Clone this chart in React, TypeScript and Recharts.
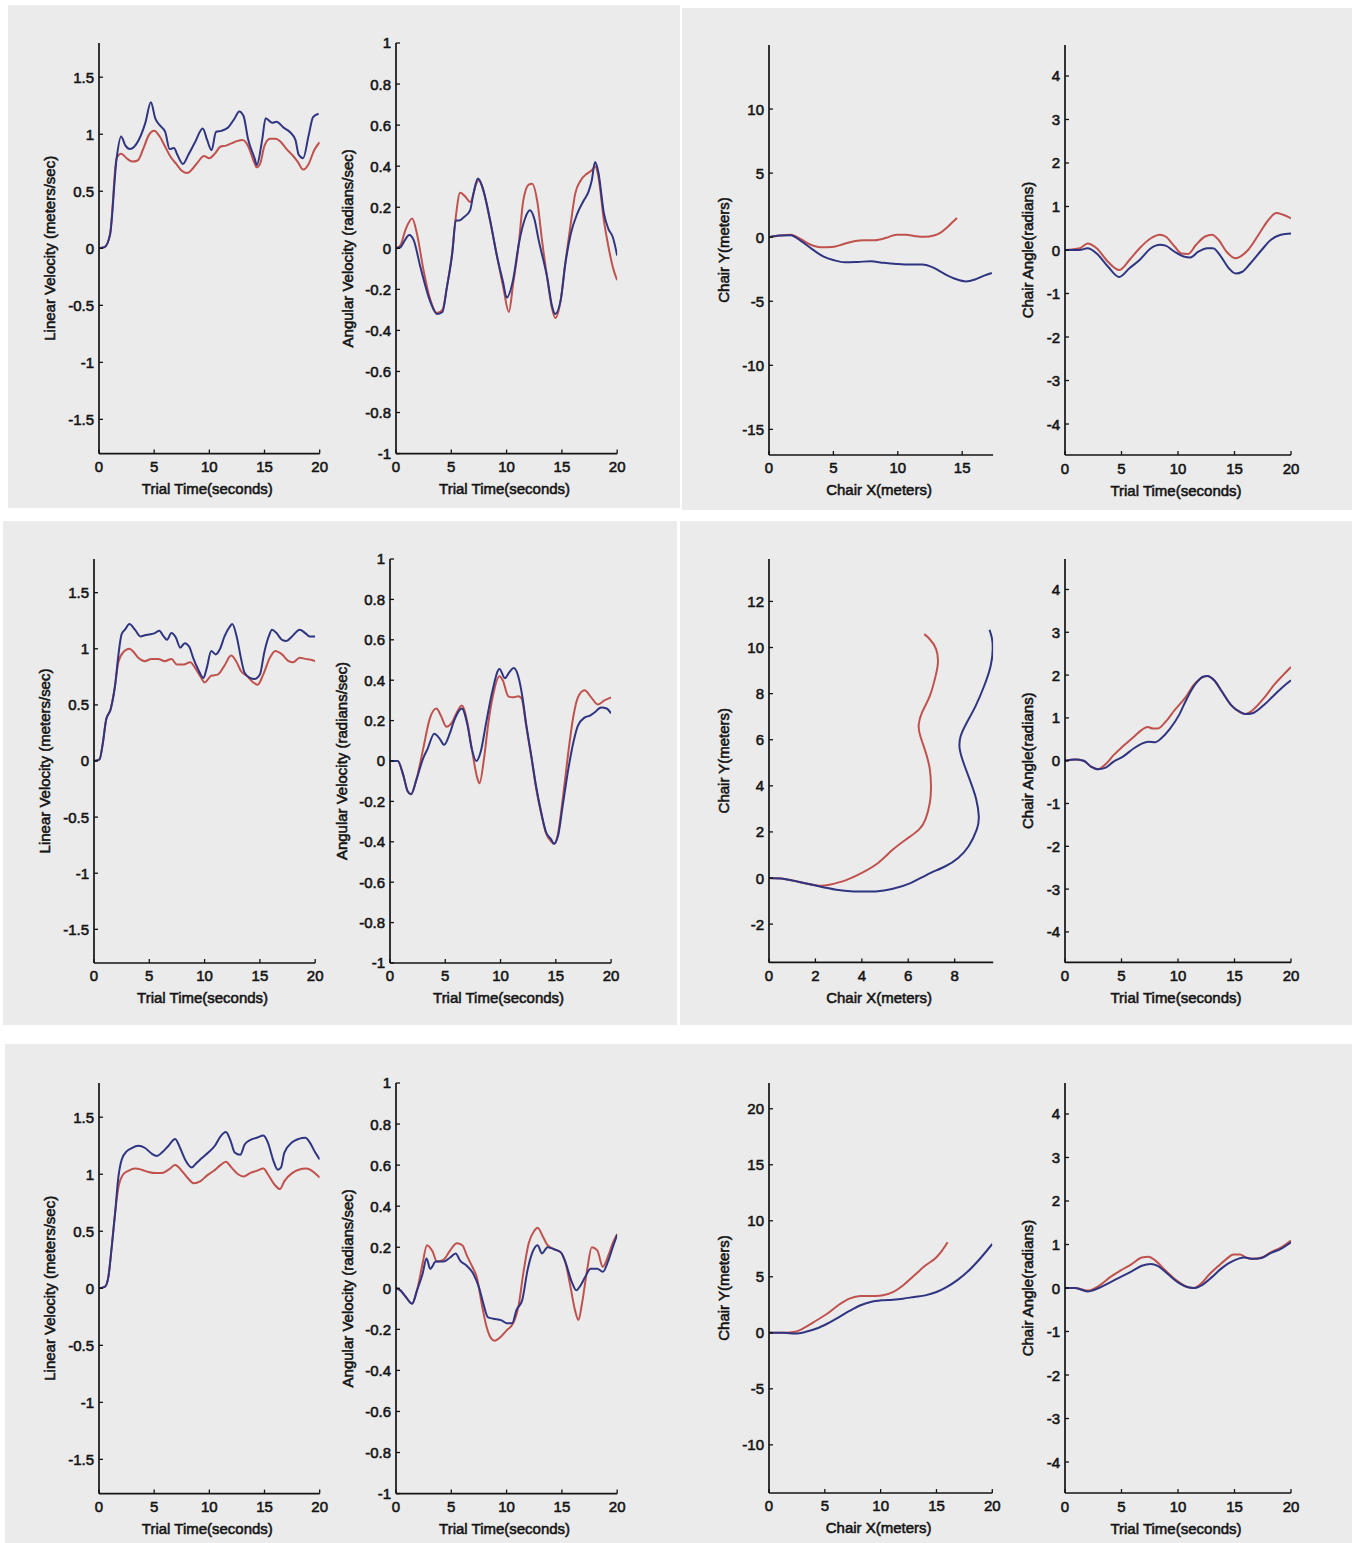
import React from 'react';
import { LineChart, Line, XAxis, YAxis } from 'recharts';

type Pt = [number, number];

// ---- axis ticks ----
const timeTicks = [0, 5, 10, 15, 20];
const linVelTicks = [-1.5, -1, -0.5, 0, 0.5, 1, 1.5];
const angVelTicks = [-1, -0.8, -0.6, -0.4, -0.2, 0, 0.2, 0.4, 0.6, 0.8, 1];
const chairAngleTicks = [-4, -3, -2, -1, 0, 1, 2, 3, 4];
const path1XTicks = [0, 5, 10, 15];
const path1YTicks = [-15, -10, -5, 0, 5, 10];
const path2XTicks = [0, 2, 4, 6, 8];
const path2YTicks = [-2, 0, 2, 4, 6, 8, 10, 12];
const path3XTicks = [0, 5, 10, 15, 20];
const path3YTicks = [-10, -5, 0, 5, 10, 15, 20];

// ---- trial 1 ----
const t1LinBlue: Pt[] = [[0,0],[0.5,0.01],[1,0.12],[1.6,0.79],[2.0,0.98],[2.4,0.9],[2.8,0.87],[3.6,0.95],[4.2,1.1],[4.7,1.28],[5.1,1.14],[5.5,1.08],[6.0,1.02],[6.4,0.87],[6.8,0.88],[7.1,0.82],[7.6,0.74],[8.1,0.82],[8.7,0.93],[9.4,1.05],[9.8,0.95],[10.2,0.86],[10.6,1.02],[11.1,1.03],[11.7,1.06],[12.3,1.14],[12.7,1.2],[13.1,1.16],[13.5,0.96],[14.1,0.79],[14.3,0.73],[14.8,0.96],[15.1,1.14],[15.7,1.1],[16.1,1.11],[16.7,1.06],[17.3,1.02],[17.8,0.95],[18.1,0.82],[18.5,0.79],[19.0,0.99],[19.4,1.15],[19.9,1.18]];
const t1LinRed: Pt[] = [[0,0],[0.5,0.01],[1,0.12],[1.6,0.79],[2.0,0.83],[2.5,0.79],[3,0.76],[3.5,0.77],[4,0.87],[4.5,0.99],[5,1.03],[5.5,0.98],[6,0.89],[6.5,0.8],[7,0.74],[7.5,0.68],[8,0.66],[8.5,0.7],[9,0.76],[9.5,0.81],[10,0.79],[10.5,0.83],[11,0.89],[11.5,0.9],[12,0.92],[12.5,0.94],[13,0.95],[13.5,0.9],[14,0.77],[14.3,0.71],[14.6,0.74],[15,0.9],[15.5,0.96],[16,0.96],[16.5,0.93],[17,0.87],[17.5,0.82],[18,0.76],[18.5,0.69],[19,0.74],[19.5,0.86],[20,0.93]];
const t1AngBlue: Pt[] = [[0,0],[0.4,0.005],[0.7,0.03],[1.2,0.065],[1.6,0.04],[2.2,-0.09],[3.1,-0.26],[3.7,-0.32],[4.2,-0.31],[4.6,-0.19],[5.1,-0.02],[5.4,0.135],[5.7,0.135],[6.1,0.15],[6.7,0.185],[7.0,0.265],[7.4,0.34],[7.8,0.3],[8.5,0.14],[9.1,-0.03],[9.7,-0.17],[10.0,-0.24],[10.6,-0.15],[11.1,0.02],[11.7,0.15],[12.1,0.185],[12.5,0.145],[12.9,0.04],[13.7,-0.15],[14.1,-0.28],[14.4,-0.32],[14.9,-0.25],[15.3,-0.08],[15.8,0.07],[16.4,0.17],[17.0,0.235],[17.4,0.275],[17.7,0.33],[18.0,0.42],[18.3,0.37],[18.8,0.17],[19.2,0.095],[19.6,0.055],[20,-0.035]];
const t1AngRed: Pt[] = [[0,0],[0.4,0.015],[0.86,0.09],[1.46,0.145],[1.9,0.07],[2.5,-0.11],[3.1,-0.25],[3.7,-0.315],[4.2,-0.3],[4.6,-0.19],[5.1,-0.01],[5.4,0.15],[5.8,0.27],[6.3,0.25],[6.7,0.225],[7.3,0.32],[7.5,0.335],[7.9,0.28],[8.5,0.135],[9.1,-0.03],[9.7,-0.19],[10.2,-0.31],[10.6,-0.17],[11.1,0.02],[11.5,0.23],[12.0,0.31],[12.3,0.315],[12.8,0.22],[13.2,0.04],[13.7,-0.155],[14.1,-0.29],[14.4,-0.34],[14.9,-0.25],[15.3,-0.075],[15.8,0.12],[16.2,0.265],[16.7,0.33],[17.3,0.365],[17.7,0.38],[18.0,0.4],[18.3,0.35],[18.8,0.135],[19.2,0.01],[19.7,-0.11],[20,-0.155]];
const t1PathBlue: Pt[] = [[0,0],[0.84,0.13],[1.68,0.16],[2.5,-0.31],[3.4,-0.97],[4.2,-1.49],[5.05,-1.8],[5.9,-1.96],[6.9,-1.93],[7.9,-1.88],[8.9,-2.0],[9.9,-2.09],[10.9,-2.14],[11.9,-2.14],[12.8,-2.4],[13.6,-2.85],[14.5,-3.26],[15.3,-3.45],[16.0,-3.3],[16.7,-3.0],[17.3,-2.8]];
const t1PathRed: Pt[] = [[0,0],[0.84,0.13],[1.68,0.2],[2.5,-0.18],[3.2,-0.57],[4.0,-0.78],[4.9,-0.76],[5.7,-0.57],[6.6,-0.31],[7.4,-0.23],[8.2,-0.23],[9.1,-0.05],[9.9,0.2],[10.6,0.2],[11.4,0.08],[12.1,0.03],[12.8,0.13],[13.3,0.34],[13.8,0.73],[14.2,1.12],[14.6,1.5]];
const t1HeadBlue: Pt[] = [[0,0],[1.3,0],[2.0,0.04],[2.8,-0.08],[3.8,-0.38],[4.8,-0.62],[5.7,-0.42],[6.6,-0.23],[7.6,0.04],[8.4,0.12],[8.9,0.1],[9.7,-0.04],[10.5,-0.15],[11.1,-0.17],[11.8,-0.04],[12.6,0.04],[13.1,0.04],[13.8,-0.15],[14.5,-0.42],[15.1,-0.54],[15.7,-0.5],[16.4,-0.31],[17.4,0],[18.2,0.23],[19.1,0.35],[20,0.38]];
const t1HeadRed: Pt[] = [[0,0],[1.3,0.04],[2.0,0.15],[2.8,0.04],[3.8,-0.27],[4.8,-0.46],[5.7,-0.23],[6.6,0.04],[7.6,0.27],[8.4,0.35],[8.9,0.31],[9.7,0.08],[10.3,-0.08],[10.9,-0.09],[11.6,0.12],[12.4,0.31],[13.0,0.35],[13.6,0.23],[14.3,-0.04],[15.1,-0.19],[15.5,-0.15],[16.2,0],[17.2,0.38],[18.0,0.69],[18.7,0.85],[19.3,0.81],[20,0.73]];

// ---- trial 2 ----
const t2LinBlue: Pt[] = [[0,0],[0.5,0.015],[0.8,0.16],[1.1,0.37],[1.5,0.46],[1.9,0.67],[2.2,0.94],[2.5,1.13],[2.8,1.17],[3.2,1.22],[3.7,1.17],[4.2,1.11],[4.6,1.12],[5.1,1.13],[5.5,1.14],[5.9,1.16],[6.3,1.11],[6.6,1.08],[7.0,1.14],[7.4,1.1],[7.8,1.01],[8.2,1.05],[8.6,1.02],[9.0,0.91],[9.4,0.82],[9.9,0.74],[10.2,0.83],[10.6,0.98],[11.0,0.95],[11.4,1.0],[11.8,1.11],[12.3,1.2],[12.5,1.22],[12.9,1.11],[13.3,0.91],[13.6,0.79],[14.1,0.74],[14.5,0.73],[15.0,0.77],[15.4,0.97],[15.8,1.11],[16.1,1.17],[16.5,1.14],[17.0,1.08],[17.4,1.07],[17.9,1.11],[18.6,1.17],[19.1,1.14],[19.5,1.11],[20,1.11]];
const t2LinRed: Pt[] = [[0,0],[0.5,0.015],[0.8,0.16],[1.1,0.37],[1.5,0.46],[1.9,0.67],[2.2,0.88],[2.65,0.97],[3.2,1.0],[3.5,0.98],[4.0,0.92],[4.6,0.89],[5.2,0.91],[5.8,0.91],[6.4,0.89],[7.0,0.91],[7.5,0.86],[8.1,0.86],[8.7,0.88],[9.2,0.82],[9.7,0.74],[10.0,0.7],[10.6,0.76],[11.2,0.77],[11.8,0.85],[12.4,0.94],[12.9,0.88],[13.3,0.8],[13.8,0.76],[14.4,0.7],[14.8,0.68],[15.3,0.77],[15.9,0.92],[16.4,0.98],[17.0,0.95],[17.6,0.89],[18.0,0.88],[18.6,0.92],[19.1,0.91],[19.7,0.9],[20,0.89]];
const t2AngBlue: Pt[] = [[0,0],[0.7,0],[1.2,-0.07],[1.6,-0.15],[1.9,-0.165],[2.4,-0.09],[3.0,0.013],[3.4,0.06],[4.0,0.135],[4.5,0.11],[4.9,0.08],[5.4,0.135],[5.8,0.2],[6.5,0.26],[7.0,0.18],[7.4,0.06],[7.8,0.0],[8.2,0.045],[8.7,0.19],[9.3,0.355],[9.9,0.455],[10.4,0.41],[10.8,0.44],[11.2,0.46],[11.6,0.42],[12.0,0.31],[12.3,0.19],[12.8,0.02],[13.2,-0.12],[13.7,-0.26],[14.1,-0.35],[14.6,-0.39],[14.8,-0.41],[15.2,-0.37],[15.6,-0.23],[16.1,-0.05],[16.6,0.095],[17.0,0.175],[17.6,0.215],[18.1,0.225],[18.5,0.24],[19.1,0.265],[19.6,0.26],[20,0.235]];
const t2AngRed: Pt[] = [[0,0],[0.7,0],[1.2,-0.07],[1.6,-0.15],[1.9,-0.165],[2.4,-0.09],[3.0,0.06],[3.6,0.21],[4.2,0.26],[4.6,0.225],[5.1,0.17],[5.6,0.19],[6.0,0.235],[6.5,0.275],[7.0,0.19],[7.4,0.06],[7.9,-0.085],[8.1,-0.11],[8.5,0.01],[8.9,0.19],[9.3,0.32],[9.9,0.42],[10.2,0.4],[10.7,0.32],[11.1,0.315],[11.6,0.32],[11.9,0.31],[12.3,0.18],[12.8,0.013],[13.2,-0.13],[13.7,-0.265],[14.1,-0.355],[14.6,-0.4],[14.9,-0.41],[15.2,-0.36],[15.6,-0.2],[16.1,0.03],[16.6,0.225],[17.0,0.315],[17.6,0.35],[18.2,0.315],[18.8,0.28],[19.4,0.3],[20,0.315]];
const t2PathBlue: Pt[] = [[0,0],[0.66,-0.04],[1.4,-0.19],[2.15,-0.36],[2.9,-0.51],[3.65,-0.58],[4.6,-0.58],[5.3,-0.48],[6.1,-0.22],[6.8,0.14],[7.6,0.51],[8.15,0.87],[8.6,1.38],[8.95,2.1],[9.04,2.68],[8.93,3.41],[8.7,4.13],[8.43,4.86],[8.22,5.58],[8.26,6.16],[8.52,6.74],[8.9,7.46],[9.27,8.33],[9.55,9.2],[9.64,9.93],[9.6,10.43],[9.5,10.77]];
const t2PathRed: Pt[] = [[0,0],[0.66,-0.04],[1.4,-0.19],[2.15,-0.33],[2.6,-0.29],[3.3,-0.1],[4.0,0.22],[4.7,0.65],[5.3,1.2],[5.9,1.67],[6.46,2.1],[6.74,2.54],[6.93,3.26],[6.98,3.99],[6.93,4.71],[6.76,5.43],[6.52,6.16],[6.45,6.65],[6.6,7.2],[6.93,7.9],[7.18,8.77],[7.28,9.35],[7.2,9.93],[6.93,10.36],[6.69,10.58]];
const t2HeadBlue: Pt[] = [[0,0],[0.9,0.03],[1.65,0],[2.3,-0.14],[2.9,-0.2],[3.6,-0.16],[4.3,-0.02],[5.1,0.09],[6.1,0.29],[6.8,0.4],[7.4,0.44],[8.0,0.43],[8.5,0.52],[9.3,0.75],[10.1,1.07],[10.8,1.46],[11.6,1.81],[12.2,1.96],[12.6,1.98],[13.2,1.88],[13.9,1.61],[14.7,1.3],[15.5,1.14],[16.0,1.09],[16.6,1.11],[17.6,1.3],[18.5,1.53],[19.3,1.73],[20,1.88]];
const t2HeadRed: Pt[] = [[0,0],[0.9,0.03],[1.65,0],[2.3,-0.14],[2.9,-0.2],[3.6,-0.08],[4.3,0.13],[5.1,0.33],[6.1,0.56],[6.8,0.72],[7.3,0.79],[7.8,0.75],[8.2,0.75],[8.9,0.91],[9.7,1.18],[10.7,1.49],[11.4,1.77],[12.0,1.92],[12.6,1.98],[13.2,1.88],[13.9,1.61],[14.7,1.3],[15.5,1.13],[16.0,1.09],[16.6,1.18],[17.6,1.46],[18.5,1.77],[19.3,2.0],[20,2.19]];

// ---- trial 3 ----
const t3LinBlue: Pt[] = [[0,0],[0.55,0.015],[0.85,0.1],[1.15,0.36],[1.45,0.65],[1.75,0.97],[2.06,1.13],[2.5,1.2],[2.97,1.23],[3.57,1.25],[4.18,1.23],[4.78,1.18],[5.24,1.16],[5.7,1.19],[6.3,1.25],[6.9,1.31],[7.35,1.23],[7.8,1.13],[8.4,1.06],[8.86,1.1],[9.3,1.14],[9.9,1.19],[10.5,1.25],[11.0,1.33],[11.5,1.37],[11.9,1.3],[12.3,1.19],[12.8,1.17],[13.2,1.26],[13.7,1.3],[14.3,1.32],[14.9,1.34],[15.3,1.28],[15.8,1.12],[16.2,1.04],[16.5,1.06],[16.8,1.19],[17.5,1.28],[18.1,1.31],[18.7,1.32],[19.1,1.28],[19.6,1.19],[20,1.13]];
const t3LinRed: Pt[] = [[0,0],[0.55,0.015],[0.85,0.1],[1.15,0.36],[1.45,0.65],[1.75,0.88],[2.2,1.0],[2.66,1.03],[3.27,1.05],[3.87,1.04],[4.48,1.02],[5.1,1.01],[5.7,1.01],[6.3,1.04],[6.9,1.08],[7.5,1.03],[8.1,0.96],[8.6,0.92],[9.2,0.94],[9.8,0.99],[10.4,1.03],[11.0,1.08],[11.5,1.11],[12.0,1.06],[12.6,1.0],[13.1,0.98],[13.7,1.01],[14.3,1.03],[14.9,1.05],[15.3,1.0],[15.9,0.91],[16.4,0.87],[16.8,0.94],[17.5,1.01],[18.1,1.04],[18.8,1.05],[19.3,1.03],[20,0.97]];
const t3AngBlue: Pt[] = [[0,0],[0.4,-0.01],[0.86,-0.04],[1.46,-0.075],[1.9,-0.01],[2.4,0.07],[2.76,0.145],[3.1,0.095],[3.6,0.13],[4.3,0.13],[4.9,0.15],[5.4,0.17],[5.8,0.135],[6.4,0.11],[7.0,0.07],[7.5,0.005],[7.9,-0.075],[8.3,-0.14],[8.8,-0.148],[9.5,-0.155],[10.0,-0.17],[10.5,-0.17],[10.9,-0.105],[11.4,-0.06],[11.9,0.09],[12.3,0.17],[12.8,0.21],[13.2,0.17],[13.7,0.2],[14.3,0.19],[14.9,0.175],[15.3,0.13],[15.9,0.03],[16.3,-0.01],[16.7,0.015],[17.1,0.055],[17.6,0.095],[18.2,0.095],[18.7,0.08],[19.2,0.135],[19.6,0.2],[20,0.26]];
const t3AngRed: Pt[] = [[0,0],[0.4,-0.01],[0.86,-0.04],[1.46,-0.075],[1.9,-0.01],[2.4,0.12],[2.8,0.21],[3.3,0.18],[3.7,0.13],[4.3,0.14],[4.9,0.185],[5.5,0.22],[6.0,0.21],[6.4,0.16],[6.9,0.105],[7.3,0.055],[7.8,-0.09],[8.2,-0.19],[8.5,-0.235],[8.9,-0.255],[9.5,-0.235],[10.0,-0.205],[10.6,-0.17],[11.1,-0.08],[11.5,0.07],[12.0,0.22],[12.5,0.28],[12.8,0.295],[13.3,0.25],[13.7,0.21],[14.3,0.19],[14.9,0.175],[15.3,0.13],[15.8,0.0],[16.2,-0.11],[16.5,-0.155],[16.8,-0.08],[17.3,0.095],[17.7,0.2],[18.2,0.185],[18.7,0.105],[19.2,0.16],[19.6,0.22],[20,0.265]];
const t3PathBlue: Pt[] = [[0,0],[1.36,0],[2.33,-0.06],[3.3,0.09],[4.27,0.38],[5.24,0.83],[6.2,1.36],[7.2,1.95],[8.2,2.46],[9.1,2.75],[10.1,2.9],[11.1,2.96],[12.0,3.05],[13.0,3.2],[14.0,3.34],[15.0,3.64],[15.9,4.08],[16.9,4.73],[17.9,5.56],[18.8,6.5],[20.0,7.93]];
const t3PathRed: Pt[] = [[0,0],[1.36,0],[2.33,0.09],[3.3,0.53],[4.27,1.12],[5.24,1.72],[6.2,2.46],[7.2,3.05],[8.2,3.28],[9.1,3.28],[10.1,3.34],[11.1,3.64],[12.0,4.23],[13.0,5.12],[14.0,6.0],[15.0,6.75],[15.5,7.34],[16.0,8.08]];
const t3HeadBlue: Pt[] = [[0,0],[0.9,0],[2.0,-0.08],[3.0,0],[4.0,0.13],[4.9,0.25],[5.9,0.38],[6.8,0.51],[7.6,0.55],[8.2,0.51],[9.1,0.32],[10.1,0.11],[10.9,0.015],[11.4,0],[12.2,0.08],[13.0,0.25],[13.8,0.44],[14.5,0.57],[15.3,0.67],[15.9,0.7],[16.6,0.67],[17.4,0.69],[18.2,0.8],[19.1,0.9],[20,1.05]];
const t3HeadRed: Pt[] = [[0,0],[0.9,0],[2.0,-0.06],[3.0,0.05],[4.0,0.25],[4.9,0.4],[5.9,0.55],[6.8,0.7],[7.4,0.72],[8.0,0.63],[8.9,0.4],[9.9,0.17],[10.9,0.015],[11.4,0],[12.0,0.09],[12.8,0.32],[13.6,0.51],[14.3,0.67],[14.9,0.77],[15.5,0.77],[16.0,0.7],[16.6,0.67],[17.4,0.7],[18.2,0.82],[19.1,0.93],[20,1.09]];

// ---- styling ----
const FONT = "'Liberation Sans', Arial, Helvetica, sans-serif";
const INK = '#141414';
const BLUE = '#2f3580';
const RED = '#c0524e';
const PANEL = '#ebebeb';
const FS = 15;
const TEXT_STROKE = 0.55;
const LINE_W = 2;
const ML = 70;
const MR = 12;
const MT = 10;
const MB = 50;
const HALF_TURN = 4.712;

const rows = (pts: Pt[]) => pts.map(([x, y]) => ({ x, y }));

const textStyle = {
  fontFamily: FONT,
  fontSize: FS,
  fill: INK,
  stroke: INK,
  strokeWidth: TEXT_STROKE,
};

const YTick = (props: any) => {
  const { x, y, payload } = props;
  return (
    <g>
      <line x1={x} x2={x + 4} y1={y} y2={y} stroke={INK} strokeWidth={1.3} />
      <text x={x - 5} y={y} textAnchor="end" dominantBaseline="central" {...textStyle}>
        {String(payload.value)}
      </text>
    </g>
  );
};

const XTick = (props: any) => {
  const { x, y, payload } = props;
  return (
    <g>
      <line x1={x} x2={x} y1={y} y2={y - 4} stroke={INK} strokeWidth={1.3} />
      <text x={x} y={y + 13} textAnchor="middle" dominantBaseline="central" {...textStyle}>
        {String(payload.value)}
      </text>
    </g>
  );
};

type SubplotProps = {
  box: [number, number, number, number];
  xDomain: [number, number];
  yDomain: [number, number];
  xTicks: number[];
  yTicks: number[];
  xLabel: string;
  yLabel: string;
  yLabelGap: number;
  red: Pt[];
  blue: Pt[];
  curve?: 'monotone' | 'natural' | 'linear';
};

function Subplot({ box, xDomain, yDomain, xTicks, yTicks, xLabel, yLabel, yLabelGap, red, blue, curve = 'monotone' }: SubplotProps) {
  const [left, top, right, bottom] = box;
  const w = right - left;
  const h = bottom - top;
  const yl = { x: ML - yLabelGap, y: MT + h / 2 };
  const xl = { x: ML + w / 2 - 2, y: MT + h + 35 };
  return (
    <div style={{ position: 'absolute', left: left - ML, top: top - MT }}>
      <LineChart width={w + ML + MR} height={h + MT + MB} margin={{ top: MT, right: MR, bottom: 0, left: 0 }}>
        <XAxis
          type="number"
          dataKey="x"
          domain={xDomain}
          ticks={xTicks}
          interval={0}
          allowDataOverflow
          height={MB}
          tickLine={false}
          tickSize={0}
          tickMargin={0}
          tick={<XTick />}
          axisLine={{ stroke: INK, strokeWidth: 1.7 }}
          label={() => (
            <text x={xl.x} y={xl.y} textAnchor="middle" dominantBaseline="central" {...textStyle}>
              {xLabel}
            </text>
          )}
        />
        <YAxis
          type="number"
          domain={yDomain}
          ticks={yTicks}
          interval={0}
          allowDataOverflow
          width={ML}
          tickLine={false}
          tickSize={0}
          tickMargin={0}
          tick={<YTick />}
          axisLine={{ stroke: INK, strokeWidth: 1.7 }}
          label={() => (
            <text x={yl.x} y={yl.y} transform={`rotate(-90, ${yl.x}, ${yl.y})`} textAnchor="middle" dominantBaseline="central" {...textStyle}>
              {yLabel}
            </text>
          )}
        />
        <Line data={rows(red)} dataKey="y" type={curve} stroke={RED} strokeWidth={LINE_W} dot={false} isAnimationActive={false} />
        <Line data={rows(blue)} dataKey="y" type={curve} stroke={BLUE} strokeWidth={LINE_W} dot={false} isAnimationActive={false} />
      </LineChart>
    </div>
  );
}

const panelStyle = (l: number, t: number, w: number, h: number): React.CSSProperties => ({
  position: 'absolute', left: l, top: t, width: w, height: h, background: PANEL,
});

const LIN = 'Linear Velocity (meters/sec)';
const ANG = 'Angular Velocity (radians/sec)';
const TIME = 'Trial Time(seconds)';
const CX = 'Chair X(meters)';
const CY = 'Chair Y(meters)';
const CA = 'Chair Angle(radians)';

export default function App() {
  return (
    <div style={{ position: 'absolute', left: 0, top: 0, width: 1359, height: 1543, background: '#ffffff', overflow: 'hidden' }}>
      <div style={panelStyle(8, 5, 672, 503)} />
      <div style={panelStyle(682, 8, 670, 502)} />
      <div style={panelStyle(3, 521, 674, 504)} />
      <div style={panelStyle(680, 521, 672, 504)} />
      <div style={panelStyle(5, 1044, 1347, 499)} />

      {/* trial 1 */}
      <Subplot box={[98.9, 42.7, 319.6, 453.3]} xDomain={[0, 20]} yDomain={[-1.8, 1.8]} xTicks={timeTicks} yTicks={linVelTicks} xLabel={TIME} yLabel={LIN} yLabelGap={49} red={t1LinRed} blue={t1LinBlue} />
      <Subplot box={[395.5, 42.7, 616.7, 453.3]} xDomain={[0, 20]} yDomain={[-1, 1]} xTicks={timeTicks} yTicks={angVelTicks} xLabel={TIME} yLabel={ANG} yLabelGap={48.5} red={t1AngRed} blue={t1AngBlue} />
      <Subplot box={[768.9, 45, 993, 455]} xDomain={[0, 17.4]} yDomain={[-17, 15]} xTicks={path1XTicks} yTicks={path1YTicks} xLabel={CX} yLabel={CY} yLabelGap={45.5} red={t1PathRed} blue={t1PathBlue} />
      <Subplot box={[1064.6, 45, 1290.6, 455]} xDomain={[0, 20]} yDomain={[-HALF_TURN, HALF_TURN]} xTicks={timeTicks} yTicks={chairAngleTicks} xLabel={TIME} yLabel={CA} yLabelGap={37.6} red={t1HeadRed} blue={t1HeadBlue} />

      {/* trial 2 */}
      <Subplot box={[94.1, 559.3, 315.3, 963.3]} xDomain={[0, 20]} yDomain={[-1.8, 1.8]} xTicks={timeTicks} yTicks={linVelTicks} xLabel={TIME} yLabel={LIN} yLabelGap={49} red={t2LinRed} blue={t2LinBlue} />
      <Subplot box={[390.3, 559.3, 611.4, 963.3]} xDomain={[0, 20]} yDomain={[-1, 1]} xTicks={timeTicks} yTicks={angVelTicks} xLabel={TIME} yLabel={ANG} yLabelGap={48.5} red={t2AngRed} blue={t2AngBlue} />
      <Subplot box={[768.9, 559.3, 993.1, 962.7]} xDomain={[0, 9.66]} yDomain={[-3.66, 13.84]} xTicks={path2XTicks} yTicks={path2YTicks} xLabel={CX} yLabel={CY} yLabelGap={45.5} red={t2PathRed} blue={t2PathBlue} curve="natural" />
      <Subplot box={[1064.6, 559.3, 1290.6, 962.7]} xDomain={[0, 20]} yDomain={[-HALF_TURN, HALF_TURN]} xTicks={timeTicks} yTicks={chairAngleTicks} xLabel={TIME} yLabel={CA} yLabelGap={37.6} red={t2HeadRed} blue={t2HeadBlue} />

      {/* trial 3 */}
      <Subplot box={[98.9, 1082.7, 319.6, 1493.3]} xDomain={[0, 20]} yDomain={[-1.8, 1.8]} xTicks={timeTicks} yTicks={linVelTicks} xLabel={TIME} yLabel={LIN} yLabelGap={49} red={t3LinRed} blue={t3LinBlue} />
      <Subplot box={[395.5, 1082.7, 616.7, 1493.3]} xDomain={[0, 20]} yDomain={[-1, 1]} xTicks={timeTicks} yTicks={angVelTicks} xLabel={TIME} yLabel={ANG} yLabelGap={48.5} red={t3AngRed} blue={t3AngBlue} />
      <Subplot box={[768.9, 1082.7, 992.2, 1492.7]} xDomain={[0, 20]} yDomain={[-14.3, 22.3]} xTicks={path3XTicks} yTicks={path3YTicks} xLabel={CX} yLabel={CY} yLabelGap={45.5} red={t3PathRed} blue={t3PathBlue} />
      <Subplot box={[1064.6, 1082.7, 1290.6, 1492.7]} xDomain={[0, 20]} yDomain={[-HALF_TURN, HALF_TURN]} xTicks={timeTicks} yTicks={chairAngleTicks} xLabel={TIME} yLabel={CA} yLabelGap={37.6} red={t3HeadRed} blue={t3HeadBlue} />
    </div>
  );
}
